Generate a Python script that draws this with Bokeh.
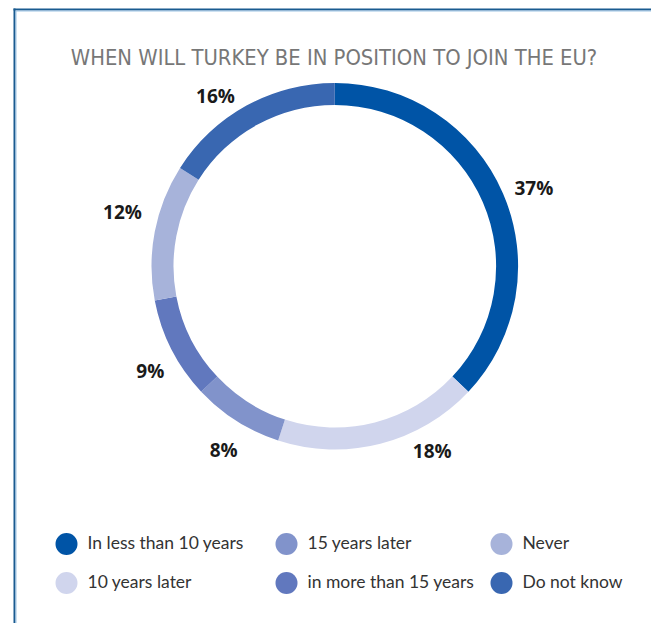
import numpy as np
from bokeh.plotting import figure
from bokeh.models import Range1d, ColumnDataSource
from bokeh.core.properties import value
from bokeh.embed import file_html
from bokeh.resources import INLINE

# ---- data ----
title_text = "WHEN WILL TURKEY BE IN POSITION TO JOIN THE EU?"
categories = ["In less than 10 years", "10 years later", "15 years later",
              "in more than 15 years", "Never", "Do not know"]
shares = [37, 18, 8, 9, 12, 16]
colors = ["#0054a6", "#d0d5ed", "#8193cb", "#6178be", "#a7b3da", "#3967b1"]

# ---- layout (pixels, measured from top-left of canvas) ----
W, H = 651, 623
def Y(cy):
    return H - cy

cx, cy = 334.3, 265.7
R_OUT, R_IN = 183.3, 161.3
LABEL_R = 213
label_dangle = [1.9, -13.4, -1.3, -2.5, 3.4, -6.2]   # label placement tweaks (deg)
label_dr = [1, -4, 2, -1, 6, -5]
legend_col_x = [66, 286, 501]
legend_row_y = [543.5, 582.5]

p = figure(width=W, height=H, x_range=Range1d(0, W), y_range=Range1d(0, H),
           output_backend="svg", toolbar_location=None, min_border=0,
           x_axis_location=None, y_axis_location=None)
p.grid.visible = False
p.outline_line_color = None
p.background_fill_color = "white"
p.border_fill_color = "white"

# border lines (top and left)
p.segment(x0=[13], y0=[Y(9)], x1=[W], y1=[Y(9)], line_color="#1a5b90", line_width=2)
p.segment(x0=[15], y0=[Y(10.5)], x1=[W], y1=[Y(10.5)], line_color="#9cc3e3", line_width=1)
p.segment(x0=[14], y0=[Y(8)], x1=[14], y1=[0], line_color="#1a5b90", line_width=2)
p.segment(x0=[15.5], y0=[Y(10)], x1=[15.5], y1=[0], line_color="#9cc3e3", line_width=1)

# donut
fr = np.array(shares, dtype=float) / sum(shares)
cum = np.concatenate([[0.0], np.cumsum(fr)])
start = np.pi / 2 - 2 * np.pi * cum[1:]
end = np.pi / 2 - 2 * np.pi * cum[:-1]
src = ColumnDataSource(dict(start=start, end=end, color=colors))
p.annular_wedge(x=cx, y=Y(cy), inner_radius=R_IN, outer_radius=R_OUT,
                start_angle="start", end_angle="end", color="color",
                line_color=None, source=src)

# percentage labels
mid = (cum[:-1] + cum[1:]) / 2 * 360 + np.array(label_dangle)
rad = np.deg2rad(mid)
rr = LABEL_R + np.array(label_dr)
lab = ColumnDataSource(dict(
    x=cx + rr * np.sin(rad),
    y=Y(cy) + rr * np.cos(rad),
    t=[f"{s}%" for s in shares]))
p.text(x="x", y="y", text="t", source=lab, text_align="center",
       text_baseline="middle", text_font=value("Open Sans"),
       text_font_style="bold", text_font_size="19px", text_color="#1a1a1a")

# title
p.text(x=[333.5], y=[Y(57)], text=[title_text], text_align="center",
       text_baseline="alphabetic", text_font=value("DejaVu Sans Condensed, Roboto"),
       text_font_size="21.8px", text_color="#777777")

# legend (2 rows, filled column by column)
idx = np.arange(len(categories))
lx = np.array([legend_col_x[i // 2] for i in idx])
ly = np.array([Y(legend_row_y[i % 2]) for i in idx])
leg = ColumnDataSource(dict(x=lx, y=ly, tx=lx + 21, ty=ly + 2, c=colors, t=categories))
p.scatter(x="x", y="y", size=22, marker="circle", color="c", line_color=None, source=leg)
p.text(x="tx", y="ty", text="t", source=leg, text_align="left",
       text_baseline="middle", text_font=value("Lato"),
       text_font_size="17.5px", text_color="#333333")

open("out.html", "w").write(file_html(p, INLINE))
